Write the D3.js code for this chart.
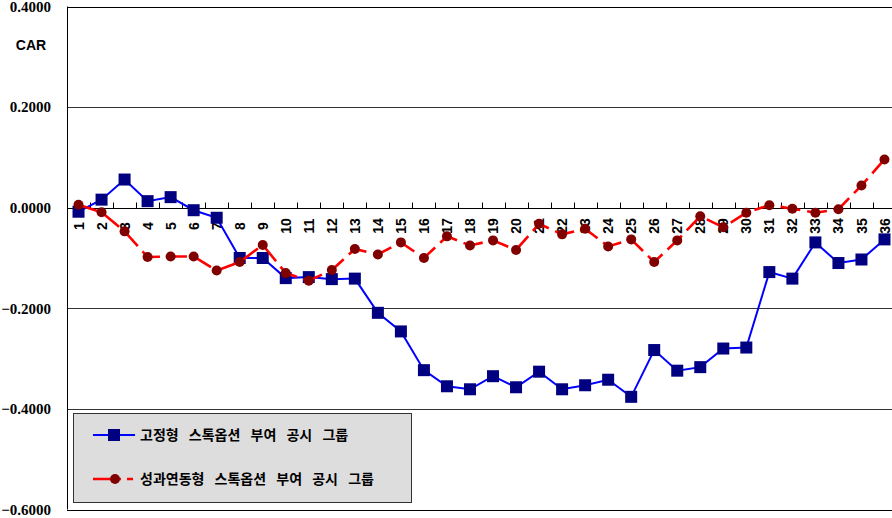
<!DOCTYPE html>
<html>
<head>
<meta charset="utf-8">
<script src="https://cdn.jsdelivr.net/npm/d3@7"></script>
<style>
  body { margin: 0; background: #fff; }
  svg { display: block; }
</style>
</head>
<body>
<div id="chart"></div>
<script>
// event days 1..36
var days = d3.range(1, 37);
// CAR of fixed-type stock option group
var fixedCar = [-0.008, 0.016, 0.056, 0.013, 0.021, -0.005, -0.020, -0.100, -0.100, -0.140,
                -0.138, -0.142, -0.141, -0.209, -0.246, -0.323, -0.355, -0.361, -0.335, -0.357,
                -0.326, -0.361, -0.353, -0.342, -0.376, -0.283, -0.324, -0.317, -0.280, -0.278,
                -0.128, -0.141, -0.069, -0.110, -0.103, -0.063];
// CAR of performance-linked stock option group
var perfCar = [0.006, -0.009, -0.047, -0.098, -0.097, -0.097, -0.125, -0.108, -0.074, -0.130,
               -0.145, -0.124, -0.082, -0.093, -0.069, -0.100, -0.057, -0.075, -0.065, -0.084,
               -0.032, -0.053, -0.042, -0.077, -0.063, -0.108, -0.065, -0.017, -0.039, -0.010,
               0.005, -0.002, -0.010, -0.003, 0.044, 0.096];
var yTicks = [0.4, 0.2, 0, -0.2, -0.4, -0.6];
var seriesNames = ["고정형 스톡옵션 부여 공시 그룹", "성과연동형 스톡옵션 부여 공시 그룹"];

var w = 892, h = 518;
var svg = d3.select("#chart").append("svg")
    .attr("width", w)
    .attr("height", h);

var xScale = d3.scaleBand()
    .domain(days)
    .range([67, 896]); // right edge runs past the window

var yScale = d3.scaleLinear()
    .domain([-0.6, 0.4])
    .range([509.5, 6.5]);

var xc = function(d) { return xScale(d) + xScale.bandwidth() / 2; };

// horizontal gridlines
svg.append("g")
    .selectAll("line")
    .data(yTicks)
    .join("line")
    .attr("x1", 67).attr("x2", w)
    .attr("y1", function(d) { return Math.round(yScale(d)) + 0.5; })
    .attr("y2", function(d) { return Math.round(yScale(d)) + 0.5; })
    .attr("stroke", function(d) { return (d == 0.4 || d == -0.6) ? "#000" : "#333"; })
    .attr("stroke-width", 1);

// left axis line
svg.append("line")
    .attr("x1", 67.5).attr("x2", 67.5)
    .attr("y1", yScale(0.4)).attr("y2", yScale(-0.6))
    .attr("stroke", "#000");

// y tick labels
svg.append("g")
    .selectAll("text")
    .data(yTicks)
    .join("text")
    .attr("x", 51)
    .attr("y", function(d) { return yScale(d); })
    .attr("dy", "0.35em")
    .attr("text-anchor", "end")
    .attr("font-family", "'Liberation Serif', 'Times New Roman', serif")
    .attr("font-weight", "bold")
    .attr("font-size", 15)
    .text(function(d) { return d3.format(".4f")(d); });

svg.append("text")
    .attr("x", 31).attr("y", 50)
    .attr("text-anchor", "middle")
    .attr("font-family", "'Liberation Sans', Arial, sans-serif")
    .attr("font-weight", "bold")
    .attr("font-size", 14)
    .text("CAR");

// x axis at zero, ticks pointing up
var y0 = Math.round(yScale(0)) + 0.5;
var xAxis = d3.axisTop(xScale).tickSize(0).tickFormat("");
var gx = svg.append("g")
    .attr("transform", "translate(0," + y0 + ")")
    .call(xAxis);
gx.select(".domain").attr("stroke", "#000").attr("d", "M67,0H" + w);
gx.selectAll(".tickmark")
    .data(days.slice(1))
    .join("line")
    .attr("x1", function(d) { return Math.round(xScale(d)) + 0.5; })
    .attr("x2", function(d) { return Math.round(xScale(d)) + 0.5; })
    .attr("y1", 0).attr("y2", -6)
    .attr("stroke", "#000");

// rotated category labels
svg.append("g")
    .selectAll("text")
    .data(days)
    .join("text")
    .attr("transform", function(d) { return "translate(" + xc(d) + ",226) rotate(-90)"; })
    .attr("text-anchor", "middle")
    .attr("dy", "0.36em")
    .attr("font-family", "'Liberation Sans', Arial, sans-serif")
    .attr("font-weight", "bold")
    .attr("font-size", 14)
    .text(function(d) { return d; });

// fixed group line
var lineFixed = d3.line()
    .x(function(d, i) { return xc(days[i]); })
    .y(function(d) { return yScale(d); });

svg.append("path")
    .datum(fixedCar)
    .attr("d", lineFixed)
    .attr("fill", "none")
    .attr("stroke", "#0000ff")
    .attr("stroke-width", 2);

svg.append("g")
    .selectAll("rect")
    .data(fixedCar)
    .join("rect")
    .attr("x", function(d, i) { return xc(days[i]) - 6; })
    .attr("y", function(d) { return yScale(d) - 6; })
    .attr("width", 12).attr("height", 12)
    .attr("fill", "#000080");

// performance-linked group line (dashed)
svg.append("path")
    .datum(perfCar)
    .attr("d", lineFixed)
    .attr("fill", "none")
    .attr("stroke", "#ff0000")
    .attr("stroke-width", 2.6)
    .attr("stroke-dasharray", "20,7");

svg.append("g")
    .selectAll("circle")
    .data(perfCar)
    .join("circle")
    .attr("cx", function(d, i) { return xc(days[i]); })
    .attr("cy", function(d) { return yScale(d); })
    .attr("r", 5)
    .attr("fill", "#800000");

// legend
var legend = svg.append("g");
legend.append("rect")
    .attr("x", 73.5).attr("y", 413.5)
    .attr("width", 338).attr("height", 89)
    .attr("fill", "#dddddd")
    .attr("stroke", "#333");

legend.append("line")
    .attr("x1", 93).attr("x2", 135).attr("y1", 435).attr("y2", 435)
    .attr("stroke", "#0000ff").attr("stroke-width", 2);
legend.append("rect")
    .attr("x", 108).attr("y", 429).attr("width", 12).attr("height", 12)
    .attr("fill", "#000080");

legend.append("line")
    .attr("x1", 93).attr("x2", 135).attr("y1", 479).attr("y2", 479)
    .attr("stroke", "#ff0000").attr("stroke-width", 2.6)
    .attr("stroke-dasharray", "28,6,6,6");
legend.append("circle")
    .attr("cx", 115).attr("cy", 479).attr("r", 5)
    .attr("fill", "#800000");

legend.selectAll(".ltext")
    .data(seriesNames)
    .join("text")
    .attr("x", 140)
    .attr("y", function(d, i) { return 435 + i * 44; })
    .attr("dy", "0.36em")
    .attr("font-family", "'Noto Sans CJK KR', sans-serif")
    .attr("font-weight", "bold")
    .attr("font-size", 14)
    .attr("word-spacing", 7)
    .text(function(d) { return d; });
</script>
</body>
</html>
